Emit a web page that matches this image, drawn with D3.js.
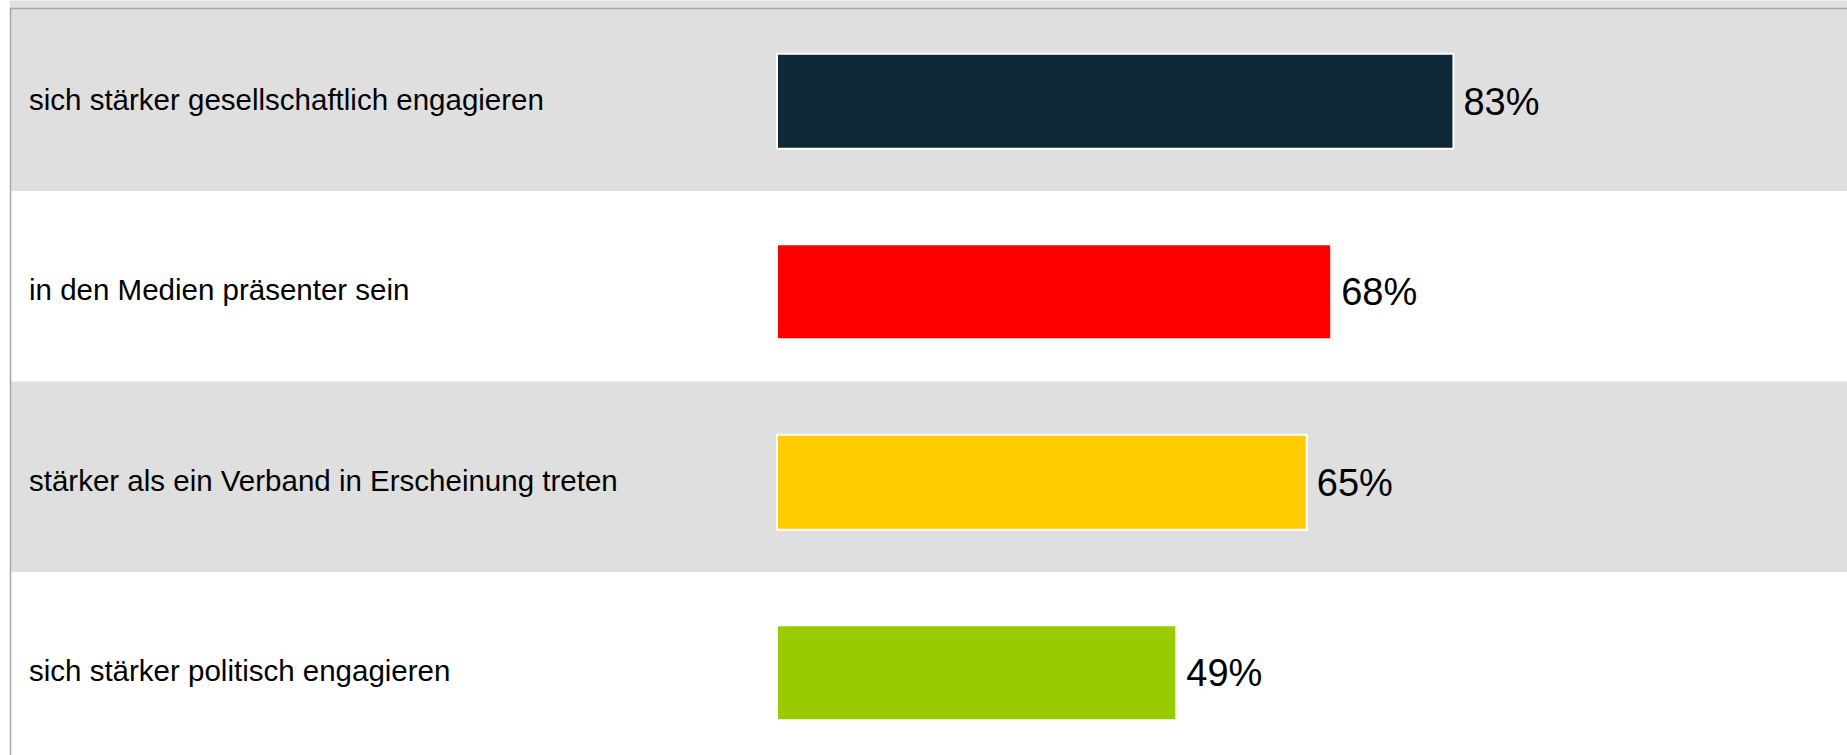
<!DOCTYPE html>
<html>
<head>
<meta charset="utf-8">
<script src="https://cdn.jsdelivr.net/npm/d3@7"></script>
<style>
  body { margin: 0; background: #fff; }
  #plot { width: 1847px; height: 755px; overflow: hidden; }
  text { font-family: Arial, "Liberation Sans", sans-serif; fill: #000; }
</style>
</head>
<body>
<div id="plot"></div>
<script>
var categories = [
    'sich stärker gesellschaftlich engagieren',
    'in den Medien präsenter sein',
    'stärker als ein Verband in Erscheinung treten',
    'sich stärker politisch engagieren'
];
var values = [83, 68, 65, 49];
var colors = ['#0d2836', '#ff0000', '#ffcc00', '#99cc00'];
var valueLabels = ['83%', '68%', '65%', '49%'];

var w = 1847,
    h = 755;

var data = categories.map(function(c, i){
    return {cat: c, value: values[i], color: colors[i], label: valueLabels[i], idx: i};
});

var svg = d3.select('#plot').append('svg')
    .attr('width', w)
    .attr('height', h);

//scales
var x = d3.scaleLinear()
    .domain([0, 100])
    .range([777, 1592]);

var y = d3.scaleBand()
    .domain(categories)
    .range([0.5, 762.5])
    .padding(0);

var barH = 95,
    shift = 5.5;

//alternating row backgrounds
svg.append('g')
    .selectAll('.row')
    .data(data)
    .enter()
    .append('rect')
    .attr('class', 'row')
    .attr('x', 10)
    .attr('y', function(d){ return y(d.cat); })
    .attr('width', w)
    .attr('height', y.bandwidth())
    .style('fill', function(d){ return d.idx % 2 === 0 ? '#dfdfdf' : '#ffffff'; });

//frame
svg.append('rect')
    .attr('x', 10.5)
    .attr('y', 8.5)
    .attr('width', w)
    .attr('height', h)
    .style('fill', 'none')
    .style('stroke', '#a6a6a6')
    .style('stroke-width', 1.5);

function mid(d){ return y(d.cat) + y.bandwidth() / 2 + shift; }

//bars
svg.append('g')
    .selectAll('.bar')
    .data(data)
    .enter()
    .append('rect')
    .attr('class', 'bar')
    .attr('x', x(0))
    .attr('y', function(d){ return mid(d) - barH / 2; })
    .attr('width', function(d){ return x(d.value) - x(0); })
    .attr('height', barH)
    .style('fill', function(d){ return d.color; })
    .style('stroke', '#ffffff')
    .style('stroke-width', 2);

//category labels
svg.append('g')
    .selectAll('.cat')
    .data(data)
    .enter()
    .append('text')
    .attr('class', 'cat')
    .attr('x', 29)
    .attr('y', function(d){ return mid(d) - 2; })
    .attr('dy', '0.35em')
    .style('font-size', '29.5px')
    .text(function(d){ return d.cat; });

//value labels
svg.append('g')
    .selectAll('.val')
    .data(data)
    .enter()
    .append('text')
    .attr('class', 'val')
    .attr('x', function(d){ return x(d.value) + 10; })
    .attr('y', function(d){ return mid(d); })
    .attr('dy', '0.35em')
    .style('font-size', '38px')
    .text(function(d){ return d.label; });
</script>
</body>
</html>
